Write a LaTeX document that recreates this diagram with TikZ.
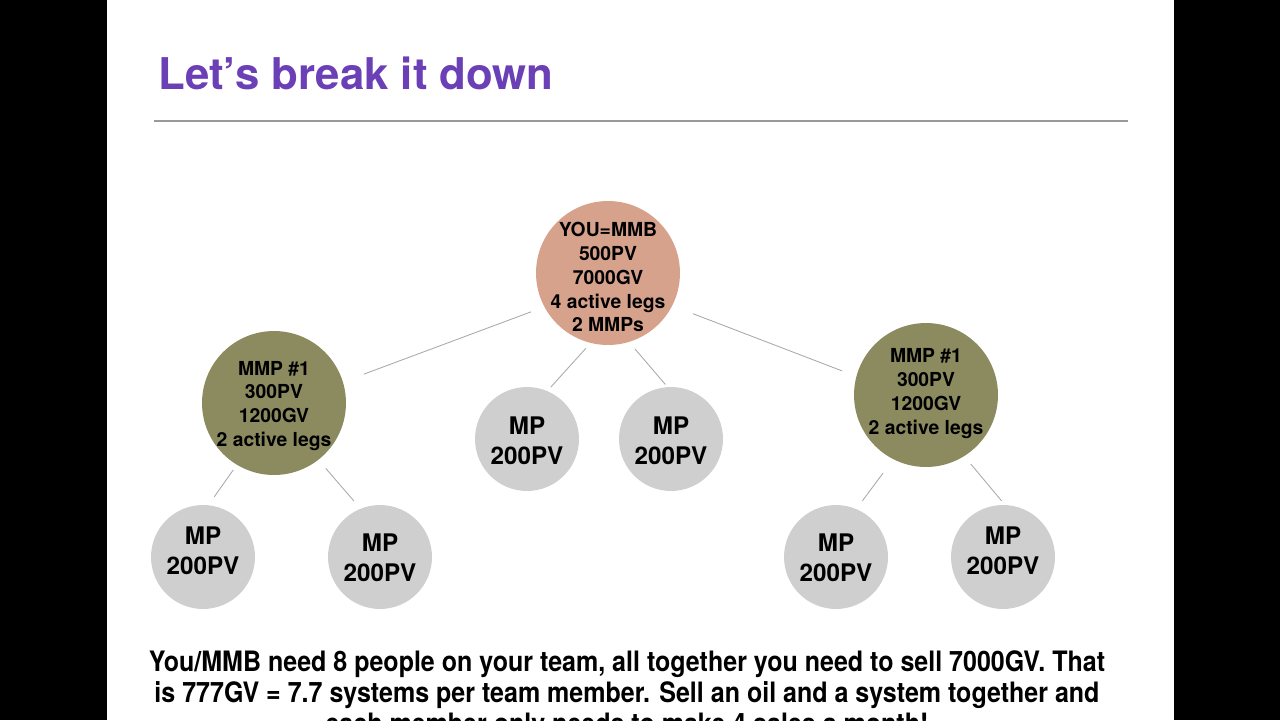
\documentclass[tikz,border=0pt]{standalone}
\usepackage{fontspec}
\setmainfont{TeX Gyre Heros}
\newfontfamily\narrowfont[FakeStretch=0.89]{TeX Gyre Heros}
\usetikzlibrary{positioning}
\definecolor{titlepurple}{HTML}{6B3FB5}
\definecolor{youpink}{HTML}{D7A28C}
\definecolor{mmpolive}{HTML}{8C8B60}
\definecolor{mpgrey}{HTML}{CFCFCF}
\definecolor{edgegrey}{HTML}{AAAAAA}
\definecolor{rulegrey}{HTML}{999999}
\tikzstyle{you}   = [circle, fill=youpink, minimum size=2.88cm, inner sep=0pt]
\tikzstyle{mmp}   = [circle, fill=mmpolive, minimum size=2.88cm, inner sep=0pt]
\tikzstyle{mp}    = [circle, fill=mpgrey, minimum size=2.08cm, inner sep=0pt]
\tikzstyle{bigtxt} = [align=center, inner sep=0pt, font=\bfseries\fontsize{11}{13.6}\selectfont]
\tikzstyle{mptxt} = [align=center, inner sep=0pt, font=\bfseries\fontsize{13.8}{17}\selectfont]
\tikzstyle{edge}  = [draw=edgegrey, line width=0.5pt]

\begin{document}
\begin{tikzpicture}[x=0.02cm, y=-0.02cm]

\useasboundingbox (0,0) rectangle (1280,720);
\clip (0,0) rectangle (1280,720);
\fill[black] (0,0) rectangle (107,720);
\fill[black] (1174,0) rectangle (1280,720);

\node[anchor=base west, inner sep=0pt, text=titlepurple, font=\bfseries\fontsize{24.9}{30}\selectfont] (title) at (158,89) {Let’s break it down};
\coordinate (ruleL) at (154,121);
\coordinate (ruleR) at (1128,121);
\draw[rulegrey, line width=0.6pt] (ruleL) -- (ruleR);

\node[you, label={[bigtxt, yshift=-2.3pt]center:YOU=MMB\\500PV\\7000GV\\4 active legs\\2 MMPs}] (you) at (608,273) {};
\node[mmp, label={[bigtxt, yshift=-1.7pt]center:MMP \#1\\300PV\\1200GV\\2 active legs}] (mmpL) at (274,403) {};
\node[mmp, label={[bigtxt, yshift=1pt]center:MMP \#1\\300PV\\1200GV\\2 active legs}] (mmpR) at (926,395) {};

\node[mp, label={[mptxt, yshift=-1pt]center:MP\\200PV}] (mpB) at (527,439) {};
\node[mp, label={[mptxt, yshift=-1pt]center:MP\\200PV}] (mpC) at (671,439) {};
\node[mp, label={[mptxt, yshift=3.4pt]center:MP\\200PV}] (mpA) at (203,557) {};
\node[mp, label={[mptxt, yshift=-0.6pt]center:MP\\200PV}] (mpD) at (380,557) {};
\node[mp, label={[mptxt, yshift=-0.6pt]center:MP\\200PV}] (mpE) at (836,557) {};
\node[mp, label={[mptxt, yshift=3.4pt]center:MP\\200PV}] (mpF) at (1003,557) {};

\draw[edge, shorten <=0.28cm, shorten >=0.44cm] (you.208) -- (mmpL.17);
\draw[edge, shorten <=0.44cm, shorten >=0.30cm] (you.333) -- (mmpR.165);
\draw[edge, shorten <=0.14cm, shorten >=0.10cm] (you.256) -- (mpB.67);
\draw[edge, shorten <=0.18cm, shorten >=0.06cm] (you.287) -- (mpC.94);
\draw[edge, shorten <=0.12cm, shorten >=0.20cm] (mmpL.239) -- (mpA.84);
\draw[edge, shorten <=0.22cm, shorten >=0.20cm] (mmpL.308) -- (mpD.112);
\draw[edge, shorten <=0.34cm, shorten >=0.20cm] (mmpR.243) -- (mpE.67);
\draw[edge, shorten <=0.20cm, shorten >=0.10cm] (mmpR.302) -- (mpF.88);

\node[anchor=north, inner sep=0pt, align=center, font=\narrowfont\bfseries\fontsize{16}{17.6}\selectfont] (summary) at (627,650)
  {You/MMB need 8 people on your team, all together you need to sell 7000GV. That\\
   is 777GV = 7.7 systems per team member. Sell an oil and a system together and\\
   each member only needs to make 4 sales a month!};

\end{tikzpicture}
\end{document}
